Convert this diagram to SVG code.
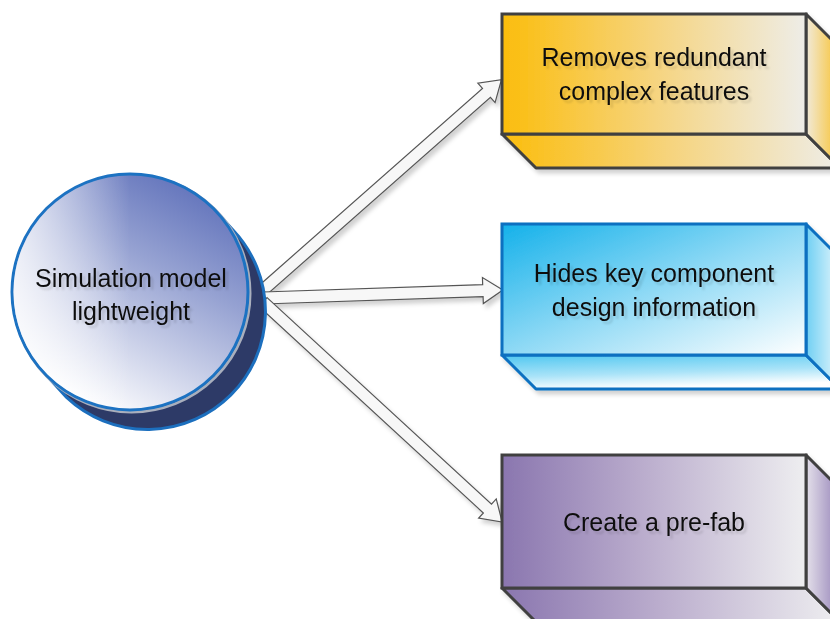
<svg xmlns="http://www.w3.org/2000/svg" width="830" height="619" viewBox="0 0 830 619">
<style>
.t{font-family:"Liberation Sans",Arial,sans-serif;font-size:25px;fill:#111;text-anchor:middle}
.arr{fill:#F7F7F7;stroke:#555;stroke-width:1.2;stroke-linejoin:miter}
</style>
<defs>
<filter id="sh" x="-10%" y="-10%" width="130%" height="130%">
<feDropShadow dx="3" dy="4" stdDeviation="2" flood-color="#000" flood-opacity="0.18"/>
</filter>
<filter id="tsh" x="-10%" y="-30%" width="130%" height="160%">
<feDropShadow dx="3" dy="3" stdDeviation="1" flood-color="#000" flood-opacity="0.12"/>
</filter>
<linearGradient id="cg" x1="0.85" y1="0.1" x2="0.35" y2="1">
<stop offset="0" stop-color="#6475BC"/>
<stop offset="0.35" stop-color="#96A2D2"/>
<stop offset="1" stop-color="#FFFFFF"/>
</linearGradient>
<linearGradient id="cg2" x1="0" y1="0" x2="1" y2="0">
<stop offset="0" stop-color="#FFFFFF" stop-opacity="0.75"/>
<stop offset="0.5" stop-color="#FFFFFF" stop-opacity="0"/>
</linearGradient>
<linearGradient id="y1" x1="0" y1="0" x2="1" y2="0">
<stop offset="0" stop-color="#FBBD0C"/>
<stop offset="0.5" stop-color="#F6D47E"/>
<stop offset="1" stop-color="#EEEDE8"/>
</linearGradient>
<linearGradient id="y2" x1="0" y1="0" x2="1" y2="0">
<stop offset="0" stop-color="#F1EADA"/>
<stop offset="1" stop-color="#F8C12C"/>
</linearGradient>
<linearGradient id="b1" x1="0" y1="0" x2="1" y2="1">
<stop offset="0" stop-color="#14B1EA"/>
<stop offset="0.5" stop-color="#8ED9F5"/>
<stop offset="1" stop-color="#FFFFFF"/>
</linearGradient>
<linearGradient id="b2" x1="0" y1="0" x2="0.3" y2="1">
<stop offset="0" stop-color="#4FC7F0"/>
<stop offset="0.6" stop-color="#A9E3F8"/>
<stop offset="1" stop-color="#FFFFFF"/>
</linearGradient>
<linearGradient id="b3" x1="0" y1="0" x2="1" y2="0">
<stop offset="0" stop-color="#6FCFF3"/>
<stop offset="1" stop-color="#E6F7FD"/>
</linearGradient>
<linearGradient id="p1" x1="0" y1="0" x2="1" y2="0">
<stop offset="0" stop-color="#8A76AF"/>
<stop offset="0.45" stop-color="#B9ABCC"/>
<stop offset="1" stop-color="#EEEEF0"/>
</linearGradient>
<linearGradient id="p2" x1="0" y1="0" x2="1" y2="0">
<stop offset="0" stop-color="#E4E0EA"/>
<stop offset="1" stop-color="#9583B8"/>
</linearGradient>
</defs>

<g id="connectors" filter="url(#sh)">
<polygon class="arr" transform="translate(263,290) rotate(-41.42)" points="0,-6 298,-6 298,-13 318,0 298,13 298,6 0,6"/>
<polygon class="arr" transform="translate(263,298) rotate(-1.93)" points="0,-6 220,-6 220,-13 240,0 220,13 220,6 0,6"/>
<polygon class="arr" transform="translate(263,302) rotate(42.62)" points="0,-6 305,-6 305,-13 325,0 305,13 305,6 0,6"/>
</g>

<g id="node-center">
<path d="M213.4,208.6 L233.4,230.6 A118,118 0 0 1 66.6,397.4 L46.6,375.4 A118,118 0 0 1 213.4,208.6 Z" fill="#2D3A67" stroke="#1C6FBE" stroke-width="3"/>
<circle cx="131.5" cy="293.5" r="118.5" fill="none" stroke="#A9AFBD" stroke-width="3"/>
<circle cx="130" cy="292" r="118" fill="url(#cg)" stroke="#1C72C2" stroke-width="3"/>
<circle cx="130" cy="292" r="116.5" fill="url(#cg2)"/>
<text class="t" filter="url(#tsh)"><tspan x="131" y="287">Simulation model</tspan><tspan x="131" y="320">lightweight</tspan></text>
</g>

<g id="node-removes" filter="url(#sh)">
<polygon points="502,134 806,134 840,168 536,168" fill="url(#y1)" stroke="#404040" stroke-width="3" stroke-linejoin="round"/>
<polygon points="806,14 840,48 840,168 806,134" fill="url(#y2)" stroke="#404040" stroke-width="3" stroke-linejoin="round"/>
<rect x="502" y="14" width="304" height="120" fill="url(#y1)" stroke="#404040" stroke-width="3"/>
<text class="t" filter="url(#tsh)"><tspan x="654" y="66">Removes redundant</tspan><tspan x="654" y="100">complex features</tspan></text>
</g>

<g id="node-hides" filter="url(#sh)">
<polygon points="502,355 806,355 840,389 536,389" fill="url(#b2)" stroke="#0A6FC0" stroke-width="3" stroke-linejoin="round"/>
<polygon points="806,224 840,258 840,389 806,355" fill="url(#b3)" stroke="#0A6FC0" stroke-width="3" stroke-linejoin="round"/>
<rect x="502" y="224" width="304" height="131" fill="url(#b1)" stroke="#0A6FC0" stroke-width="3"/>
<text class="t" filter="url(#tsh)"><tspan x="654" y="282">Hides key component</tspan><tspan x="654" y="316">design information</tspan></text>
</g>

<g id="node-prefab" filter="url(#sh)">
<polygon points="502,588 806,588 840,622 536,622" fill="url(#p1)" stroke="#404040" stroke-width="3" stroke-linejoin="round"/>
<polygon points="806,455 840,489 840,622 806,588" fill="url(#p2)" stroke="#404040" stroke-width="3" stroke-linejoin="round"/>
<rect x="502" y="455" width="304" height="133" fill="url(#p1)" stroke="#404040" stroke-width="3"/>
<text class="t" filter="url(#tsh)"><tspan x="654" y="531">Create a pre-fab</tspan></text>
</g>
</svg>
